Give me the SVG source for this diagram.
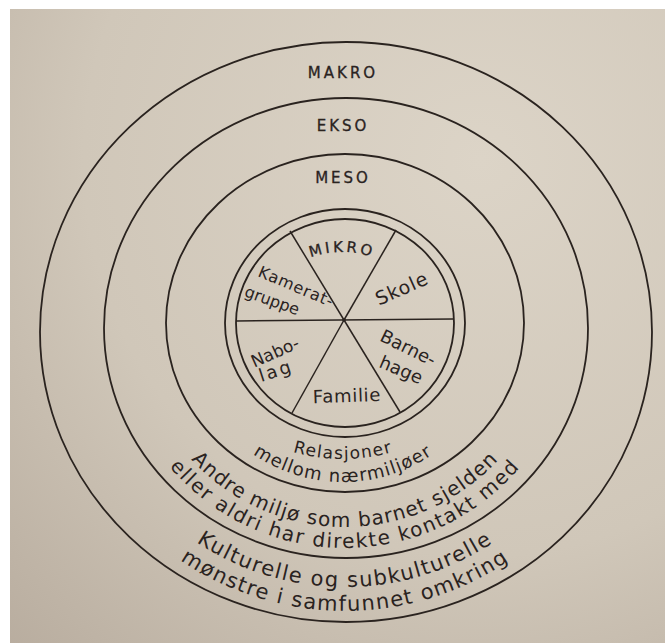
<svg xmlns="http://www.w3.org/2000/svg" width="665" height="643" viewBox="0 0 665 643">
  <defs>
    <radialGradient id="paper" cx="480" cy="160" r="720" gradientUnits="userSpaceOnUse">
      <stop offset="0" stop-color="#dcd4c7"/>
      <stop offset="0.55" stop-color="#d0c7b9"/>
      <stop offset="1" stop-color="#b5a99b"/>
    </radialGradient>
    <path id="pMikro" d="M 252 342 A 90 90 0 0 1 432 342"/>
    <path id="pRel" d="M 163 279 A 180 180 0 0 0 523 279"/>
    <path id="pMellom" d="M 184 323 A 159 159 0 0 0 502 323"/>
    <path id="pAndre" d="M 136 318 A 209 209 0 0 0 554 318"/>
    <path id="pEller" d="M 115 318 A 230 230 0 0 0 575 318"/>
    <path id="pKult" d="M 76 318 A 269 269 0 0 0 614 318"/>
    <path id="pMon" d="M 52 318 A 293 293 0 0 0 638 318"/>
  </defs>
  <style>
    .ring { fill: none; stroke: #2a231f; stroke-width: 1.8; }
    .div { fill: none; stroke: #2a231f; stroke-width: 1.5; }
    .cap { font-family: "DejaVu Sans", "Liberation Sans", sans-serif; font-size: 15px; fill: #2a231f; stroke: #2a231f; stroke-width: 0.3; letter-spacing: 3px; text-anchor: middle; }
    .hand { font-family: "DejaVu Sans", "Liberation Sans", sans-serif; fill: #2a231f; text-anchor: middle; }
  </style>

  <rect x="0" y="0" width="665" height="643" fill="#ffffff"/>
  <rect x="10" y="9" width="655" height="634" fill="url(#paper)"/>

  <g id="makro">
    <ellipse class="ring" cx="346" cy="332" rx="306" ry="290"/>
    <text class="cap" x="343" y="78">MAKRO</text>
    <text class="hand" font-size="21" letter-spacing="1.5"><textPath href="#pKult" startOffset="50%">Kulturelle og subkulturelle</textPath></text>
    <text class="hand" font-size="21" letter-spacing="1.4"><textPath href="#pMon" startOffset="50%">mønstre i samfunnet omkring</textPath></text>
  </g>

  <g id="ekso">
    <ellipse class="ring" cx="346" cy="328" rx="242" ry="230"/>
    <text class="cap" x="343" y="131">EKSO</text>
    <text class="hand" font-size="20" letter-spacing="1.1"><textPath href="#pAndre" startOffset="50%">Andre miljø som barnet sjelden</textPath></text>
    <text class="hand" font-size="20" letter-spacing="1.6"><textPath href="#pEller" startOffset="50%">eller aldri har direkte kontakt med</textPath></text>
  </g>

  <g id="meso">
    <ellipse class="ring" cx="345" cy="323" rx="179" ry="169"/>
    <text class="cap" x="343" y="183">MESO</text>
    <text class="hand" font-size="17" letter-spacing="1.3"><textPath href="#pRel" startOffset="50%">Relasjoner</textPath></text>
    <text class="hand" font-size="18" letter-spacing="1.2"><textPath href="#pMellom" startOffset="50%">mellom nærmiljøer</textPath></text>
  </g>

  <g id="mikro">
    <ellipse class="ring" cx="345" cy="323" rx="120" ry="114"/>
    <ellipse class="ring" cx="345" cy="323" rx="109" ry="104"/>
    <text class="cap" letter-spacing="3.5"><textPath href="#pMikro" startOffset="50%">MIKRO</textPath></text>
  </g>

  <g id="connectors">
    <line class="div" x1="236" y1="321" x2="453" y2="319"/>
    <line class="div" x1="290" y1="231" x2="344" y2="320"/>
    <line class="div" x1="396" y1="230" x2="344" y2="320"/>
    <line class="div" x1="292" y1="413" x2="344" y2="320"/>
    <line class="div" x1="400" y1="412" x2="344" y2="320"/>
    <circle cx="344" cy="320" r="1.8" fill="#2a231f"/>
  </g>

  <g id="kameratgruppe">
    <text class="hand" font-size="16" letter-spacing="0.8" transform="translate(296,287) rotate(23)" y="5">Kamerat-</text>
    <text class="hand" font-size="16" transform="translate(272,301) rotate(20)" y="5">gruppe</text>
  </g>
  <g id="skole">
    <text class="hand" font-size="19" letter-spacing="1" transform="translate(402,289) rotate(-24)" y="6">Skole</text>
  </g>
  <g id="barnehage">
    <text class="hand" font-size="18" transform="translate(408,348) rotate(26)" y="6">Barne-</text>
    <text class="hand" font-size="18" transform="translate(401,370) rotate(23)" y="6">hage</text>
  </g>
  <g id="nabolag">
    <text class="hand" font-size="17" transform="translate(275,352) rotate(-24)" y="6">Nabo-</text>
    <text class="hand" font-size="18" letter-spacing="2.5" transform="translate(276,371) rotate(-18)" y="6">lag</text>
  </g>
  <g id="familie">
    <text class="hand" font-size="18" letter-spacing="0.7" transform="translate(347,396) rotate(-2)" y="6">Familie</text>
  </g>
</svg>
